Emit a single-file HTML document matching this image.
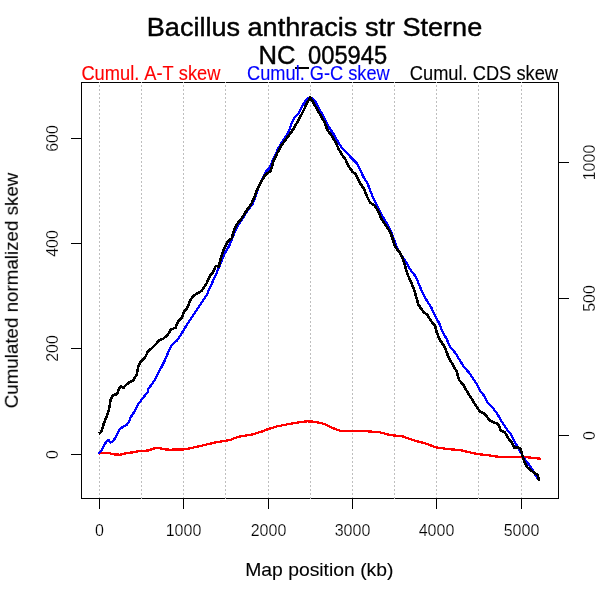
<!DOCTYPE html>
<html><head><meta charset="utf-8"><title>Bacillus anthracis str Sterne NC_005945</title>
<style>
html,body{margin:0;padding:0;background:#fff;}
body{width:600px;height:600px;overflow:hidden;}
svg{display:block;font-family:"Liberation Sans",sans-serif;font-kerning:none;}
</style></head><body>
<svg width="600" height="600" viewBox="0 0 600 600">
<rect width="600" height="600" fill="#fff"/>
<g shape-rendering="crispEdges" fill="none" opacity="0.999">
<rect x="81.5" y="82.5" width="477" height="416" stroke="#000" stroke-width="1"/>
<line x1="99.5" y1="82" x2="99.5" y2="499" stroke="#bebebe" stroke-width="1" stroke-dasharray="2 2" stroke-dashoffset="1"/>
<line x1="141.5" y1="82" x2="141.5" y2="499" stroke="#bebebe" stroke-width="1" stroke-dasharray="2 2" stroke-dashoffset="1"/>
<line x1="183.5" y1="82" x2="183.5" y2="499" stroke="#bebebe" stroke-width="1" stroke-dasharray="2 2" stroke-dashoffset="1"/>
<line x1="225.5" y1="82" x2="225.5" y2="499" stroke="#bebebe" stroke-width="1" stroke-dasharray="2 2" stroke-dashoffset="1"/>
<line x1="268.5" y1="82" x2="268.5" y2="499" stroke="#bebebe" stroke-width="1" stroke-dasharray="2 2" stroke-dashoffset="1"/>
<line x1="310.5" y1="82" x2="310.5" y2="499" stroke="#bebebe" stroke-width="1" stroke-dasharray="2 2" stroke-dashoffset="1"/>
<line x1="352.5" y1="82" x2="352.5" y2="499" stroke="#bebebe" stroke-width="1" stroke-dasharray="2 2" stroke-dashoffset="1"/>
<line x1="394.5" y1="82" x2="394.5" y2="499" stroke="#bebebe" stroke-width="1" stroke-dasharray="2 2" stroke-dashoffset="1"/>
<line x1="436.5" y1="82" x2="436.5" y2="499" stroke="#bebebe" stroke-width="1" stroke-dasharray="2 2" stroke-dashoffset="1"/>
<line x1="478.5" y1="82" x2="478.5" y2="499" stroke="#bebebe" stroke-width="1" stroke-dasharray="2 2" stroke-dashoffset="1"/>
<line x1="521.5" y1="82" x2="521.5" y2="499" stroke="#bebebe" stroke-width="1" stroke-dasharray="2 2" stroke-dashoffset="1"/>
<line x1="99.5" y1="498" x2="99.5" y2="509" stroke="#000"/>
<text x="99.5" y="536" font-size="16" fill="#000" stroke="#fff" stroke-width="0.2" text-anchor="middle">0</text>
<line x1="183.5" y1="498" x2="183.5" y2="509" stroke="#000"/>
<text x="183.5" y="536" font-size="16" fill="#000" stroke="#fff" stroke-width="0.2" text-anchor="middle">1000</text>
<line x1="268.5" y1="498" x2="268.5" y2="509" stroke="#000"/>
<text x="268.5" y="536" font-size="16" fill="#000" stroke="#fff" stroke-width="0.2" text-anchor="middle">2000</text>
<line x1="352.5" y1="498" x2="352.5" y2="509" stroke="#000"/>
<text x="352.5" y="536" font-size="16" fill="#000" stroke="#fff" stroke-width="0.2" text-anchor="middle">3000</text>
<line x1="436.5" y1="498" x2="436.5" y2="509" stroke="#000"/>
<text x="436.5" y="536" font-size="16" fill="#000" stroke="#fff" stroke-width="0.2" text-anchor="middle">4000</text>
<line x1="521.5" y1="498" x2="521.5" y2="509" stroke="#000"/>
<text x="521.5" y="536" font-size="16" fill="#000" stroke="#fff" stroke-width="0.2" text-anchor="middle">5000</text>
<line x1="71" y1="454.5" x2="82" y2="454.5" stroke="#000"/>
<text transform="translate(58,454.5) rotate(-90)" font-size="16" fill="#000" stroke="#fff" stroke-width="0.2" text-anchor="middle">0</text>
<line x1="71" y1="348.5" x2="82" y2="348.5" stroke="#000"/>
<text transform="translate(58,348.5) rotate(-90)" font-size="16" fill="#000" stroke="#fff" stroke-width="0.2" text-anchor="middle">200</text>
<line x1="71" y1="243.5" x2="82" y2="243.5" stroke="#000"/>
<text transform="translate(58,243.5) rotate(-90)" font-size="16" fill="#000" stroke="#fff" stroke-width="0.2" text-anchor="middle">400</text>
<line x1="71" y1="138.5" x2="82" y2="138.5" stroke="#000"/>
<text transform="translate(58,138.5) rotate(-90)" font-size="16" fill="#000" stroke="#fff" stroke-width="0.2" text-anchor="middle">600</text>
<line x1="558" y1="435.5" x2="569" y2="435.5" stroke="#000"/>
<text transform="translate(595,435.5) rotate(-90)" font-size="16" fill="#000" stroke="#fff" stroke-width="0.2" text-anchor="middle">0</text>
<line x1="558" y1="298.5" x2="569" y2="298.5" stroke="#000"/>
<text transform="translate(595,298.5) rotate(-90)" font-size="16" fill="#000" stroke="#fff" stroke-width="0.2" text-anchor="middle">500</text>
<line x1="558" y1="162.5" x2="569" y2="162.5" stroke="#000"/>
<text transform="translate(595,162.5) rotate(-90)" font-size="16" fill="#000" stroke="#fff" stroke-width="0.2" text-anchor="middle">1000</text>

</g>
<g fill="none" stroke-width="2.3" stroke-linejoin="round" stroke-linecap="butt" shape-rendering="crispEdges">
<polyline stroke="#ff0000" points="98.7,453.7 102.5,452.8 108.3,452.8 114.2,454.5 120.0,454.7 125.8,453.3 131.7,452.5 138.3,451.2 148.3,450.5 153.3,448.7 158.3,447.8 163.3,449.2 170.0,449.7 176.7,449.5 183.3,449.5 190.0,448.3 202.5,445.5 215.0,442.5 230.0,440.0 237.5,437.0 252.5,434.5 262.5,431.3 267.5,429.3 277.5,426.3 287.5,424.3 297.5,422.5 307.5,421.3 315.0,421.8 323.8,423.8 331.3,427.5 340.0,430.8 352.5,431.0 367.5,431.3 380.0,432.3 390.0,435.0 402.5,436.3 412.5,440.0 425.0,443.3 436.3,447.5 450.0,449.3 460.0,450.0 468.3,452.0 478.3,454.2 488.3,455.3 500.0,457.0 511.7,457.0 521.7,456.7 530.0,457.5 540.8,458.8"/>
<polyline stroke="#0000ff" points="98.7,453.7 101.7,450.0 104.2,445.0 106.7,441.3 108.8,440.0 110.3,442.5 112.5,441.7 115.0,438.3 117.5,433.3 120.0,428.7 123.3,426.7 126.7,424.7 129.2,421.7 130.0,418.3 133.3,413.3 135.8,409.2 138.3,404.2 140.8,400.8 143.3,397.5 147.5,392.5 148.3,389.2 151.7,384.2 154.2,380.8 155.0,379.2 158.3,372.5 161.7,366.7 165.0,360.0 169.2,350.0 171.7,345.0 176.7,340.8 181.7,333.3 186.7,325.0 191.7,317.5 196.7,310.0 201.7,302.5 206.7,295.0 210.0,287.5 215.0,276.7 220.0,265.0 224.2,254.2 229.2,245.8 232.5,237.5 236.7,227.5 241.7,220.0 246.7,211.7 252.5,204.2 255.8,195.8 258.3,188.3 262.5,178.3 265.8,171.7 269.2,168.3 273.3,159.2 278.3,148.3 283.3,140.0 288.3,132.5 291.7,123.3 295.0,116.7 299.2,112.5 302.5,105.8 305.8,100.0 310.0,97.0 315.0,100.8 319.2,109.2 324.2,117.5 329.2,127.5 334.2,135.0 338.3,142.5 341.7,147.5 346.7,152.5 351.7,158.3 356.7,163.3 360.0,169.2 363.3,176.7 367.5,183.3 370.0,190.0 373.3,198.3 376.7,205.0 380.0,211.7 384.2,219.2 388.3,225.8 391.7,233.3 394.2,240.0 396.7,247.5 400.8,254.2 405.8,261.7 410.0,269.2 415.8,276.7 419.2,285.0 423.3,294.2 427.5,301.7 431.7,308.3 435.0,315.8 439.2,323.3 442.5,331.7 446.7,339.2 450.0,346.7 455.0,352.5 459.2,359.2 464.2,367.5 468.3,371.7 472.5,377.5 476.7,384.2 480.0,390.8 484.2,395.8 487.5,402.5 492.5,407.5 497.5,414.2 501.7,421.7 506.7,429.2 510.8,434.2 514.2,440.8 518.3,448.3 521.7,454.2 525.8,460.8 530.8,466.7 534.2,473.3 539.2,480.8"/>
<polyline stroke="#000000" stroke-width="2.6" points="98.7,433.7 101.3,432.0 103.3,425.0 105.8,418.3 108.0,413.3 109.7,405.8 110.3,400.8 112.5,395.8 115.0,394.2 117.2,394.2 118.7,389.2 121.2,386.3 123.3,388.0 125.8,385.0 129.2,382.5 133.0,380.8 134.7,377.5 136.7,375.0 138.3,366.7 140.8,361.7 145.0,357.5 148.3,350.8 151.7,348.3 155.8,344.2 159.2,340.3 163.3,338.7 167.5,335.0 170.8,329.7 175.8,327.5 177.5,322.5 181.7,317.5 184.2,311.7 187.5,307.5 190.0,300.8 193.3,295.8 197.5,293.3 201.7,290.8 205.0,285.8 206.7,283.3 210.0,275.8 213.3,271.7 215.8,265.8 218.7,266.7 220.8,258.3 222.5,252.5 225.8,245.0 228.3,240.8 231.7,238.3 234.2,230.0 236.7,224.2 240.0,220.8 243.3,215.8 247.5,209.2 251.7,203.3 254.2,197.5 256.7,190.8 260.8,182.5 265.0,175.0 270.8,170.8 273.3,161.7 277.5,152.5 281.7,145.0 286.7,138.3 291.7,131.7 296.7,123.3 301.7,114.2 305.8,105.8 310.0,97.5 313.3,102.5 317.5,110.0 321.7,117.5 324.2,121.7 327.5,130.0 331.7,135.8 335.8,142.5 338.3,148.3 341.7,154.2 345.8,160.0 348.3,165.8 352.5,171.7 355.8,174.2 359.2,181.7 364.2,189.2 366.7,195.8 370.0,202.5 375.0,205.8 378.3,211.7 381.7,219.2 386.7,226.7 390.8,233.3 393.3,240.8 395.0,246.7 399.2,251.7 402.5,257.5 405.0,265.8 407.5,274.2 410.8,281.7 414.2,290.0 416.7,298.3 418.3,305.0 419.2,305.8 423.3,311.7 427.5,315.0 430.8,320.8 435.0,325.8 436.7,332.5 440.0,340.0 445.0,347.5 448.3,356.7 452.5,364.2 456.7,371.7 459.2,380.0 463.3,385.0 466.7,390.8 470.8,397.5 475.0,404.2 480.0,411.7 485.0,414.2 489.2,420.0 494.2,422.5 498.3,424.2 500.8,430.8 505.0,432.5 508.3,438.3 511.7,442.5 514.2,447.5 518.3,447.5 520.8,449.2 522.5,455.8 525.0,463.3 527.5,467.5 531.7,470.8 535.0,473.3 537.5,475.0 539.2,480.8"/>
</g>
<g fill="#000" opacity="0.999">
<g stroke="#000" stroke-width="0.42" stroke-linejoin="round" font-size="25">
<text id="t1" x="0" y="36" text-anchor="middle" transform="translate(314.5,0) scale(1.083,1)">Bacillus anthracis str Sterne</text>
<text id="t2a" x="0" y="64" transform="translate(258.5,0) scale(1.025,1)">NC</text>
<text id="t2b" x="0" y="64" text-anchor="end" transform="translate(387.2,0) scale(0.95,1)">005945</text>
</g>
<rect x="295" y="67" width="14" height="2" fill="#000" shape-rendering="crispEdges"/>
<text id="la" x="0" y="0" font-size="18" fill="#ff0000" stroke="#ff0000" stroke-width="0.12" transform="translate(81.4,80) scale(1.015,1.1)">Cumul. A-T skew</text>
<text id="lb" x="0" y="0" font-size="18" fill="#0000ff" stroke="#0000ff" stroke-width="0.12" text-anchor="middle" transform="translate(318.4,80) scale(1.012,1.1)">Cumul. G-C skew</text>
<text id="lc" x="0" y="0" font-size="18" stroke="#000" stroke-width="0.12" text-anchor="end" transform="translate(558,80) scale(1.015,1.1)">Cumul. CDS skew</text>
<text id="xl" x="0" y="576" font-size="19" stroke="#000" stroke-width="0.12" text-anchor="middle" transform="translate(319.3,0) scale(1.018,1)">Map position (kb)</text>
<text id="yl" stroke="#000" stroke-width="0.12" transform="translate(17.8,290.5) rotate(-90) scale(0.988,1)" font-size="19" text-anchor="middle">Cumulated normalized skew</text>
</g>
</svg>
</body></html>
